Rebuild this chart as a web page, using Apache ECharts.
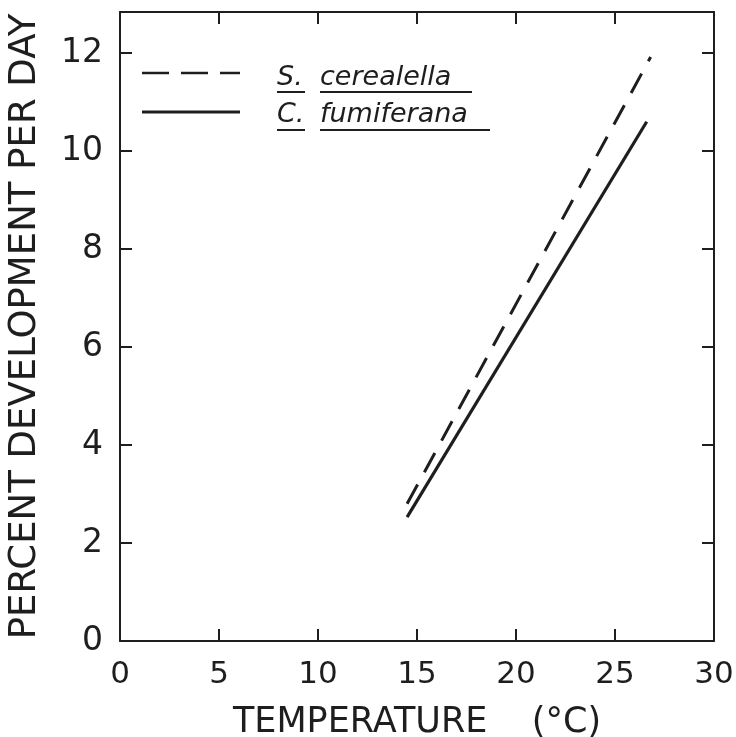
<!DOCTYPE html>
<html><head><meta charset="utf-8">
<script src="https://cdn.jsdelivr.net/npm/echarts@6/dist/echarts.min.js"></script>
<style>html,body{margin:0;padding:0;background:#fff}#c{width:736px;height:737px}</style>
</head><body><div id="c"></div>
<script>
var xTicks = [0, 5, 10, 15, 20, 25, 30];
var yTicks = [0, 2, 4, 6, 8, 10, 12];
var seriesNames = ['S. cerealella', 'C. fumiferana'];
var cerealellaTemp = [14.5, 26.8];
var cerealellaRate = [2.8, 11.92];
var fumiferanaTemp = [14.5, 26.6];
var fumiferanaRate = [2.53, 10.6];

var FONT = 'DejaVu Sans';
var INK = '#1e1e1e';
var chart = echarts.init(document.getElementById('c'), null, {renderer: 'canvas'});
function pairs(xs, ys) { return xs.map(function (x, i) { return [x, ys[i]]; }); }
function axisCommon() {
  return {
    axisLine: {onZero: false, lineStyle: {color: INK, width: 2}},
    axisTick: {inside: true, length: 12, lineStyle: {color: INK, width: 2}},
    splitLine: {show: false}
  };
}
chart.setOption({
  animation: false,
  backgroundColor: '#fff',
  grid: {left: 120, right: 22, top: 12, bottom: 96, containLabel: false, outerBoundsMode: 'none'},
  xAxis: [
    Object.assign({type: 'value', min: 0, max: 30, interval: 5, position: 'bottom',
      name: 'TEMPERATURE    (°C)', nameLocation: 'middle', nameGap: 64,
      nameTextStyle: {fontFamily: FONT, fontSize: 35, color: INK},
      axisLabel: {fontFamily: FONT, fontSize: 31, color: INK, margin: 18,
        formatter: function (v) { return xTicks.indexOf(v) >= 0 ? String(v) : ''; }}}, axisCommon()),
    Object.assign({type: 'value', min: 0, max: 30, interval: 5, position: 'top',
      axisLabel: {show: false}}, axisCommon())
  ],
  yAxis: [
    Object.assign({type: 'value', min: 0, max: 12.84, interval: 2, position: 'left',
      name: 'PERCENT DEVELOPMENT PER DAY', nameLocation: 'middle', nameGap: 76,
      nameTextStyle: {fontFamily: FONT, fontSize: 37, color: INK},
      axisLabel: {fontFamily: FONT, fontSize: 33, color: INK, margin: 17,
        showMaxLabel: false,
        formatter: function (v) { return yTicks.indexOf(v) >= 0 ? String(v) : ''; }}}, axisCommon()),
    Object.assign({type: 'value', min: 0, max: 12.84, interval: 2, position: 'right',
      axisLabel: {show: false}}, axisCommon())
  ],
  series: [
    {name: seriesNames[0], type: 'line', data: pairs(cerealellaTemp, cerealellaRate),
      showSymbol: false, symbol: 'none',
      lineStyle: {color: INK, width: 3, type: [22, 14]}},
    {name: seriesNames[1], type: 'line', data: pairs(fumiferanaTemp, fumiferanaRate),
      showSymbol: false, symbol: 'none',
      lineStyle: {color: INK, width: 3.2}}
  ],
  graphic: [
    {type: 'line', shape: {x1: 142, y1: 73, x2: 240, y2: 73}, style: {stroke: INK, lineWidth: 2.5, lineDash: [27, 12]}},
    {type: 'line', shape: {x1: 142, y1: 112, x2: 240, y2: 112}, style: {stroke: INK, lineWidth: 3}},
    {type: 'text', x: 277, y: 78, style: {text: 'S.', fontFamily: FONT, fontStyle: 'italic', fontSize: 27, fill: INK, verticalAlign: 'middle'}},
    {type: 'text', x: 320, y: 78, style: {text: 'cerealella', fontFamily: FONT, fontStyle: 'italic', fontSize: 27, fill: INK, verticalAlign: 'middle'}},
    {type: 'text', x: 277, y: 115, style: {text: 'C.', fontFamily: FONT, fontStyle: 'italic', fontSize: 27, fill: INK, verticalAlign: 'middle'}},
    {type: 'text', x: 320, y: 115, style: {text: 'fumiferana', fontFamily: FONT, fontStyle: 'italic', fontSize: 27, fill: INK, verticalAlign: 'middle'}},
    {type: 'line', shape: {x1: 277, y1: 92, x2: 305, y2: 92}, style: {stroke: INK, lineWidth: 2}},
    {type: 'line', shape: {x1: 320, y1: 92, x2: 472, y2: 92}, style: {stroke: INK, lineWidth: 2}},
    {type: 'line', shape: {x1: 277, y1: 130, x2: 305, y2: 130}, style: {stroke: INK, lineWidth: 2}},
    {type: 'line', shape: {x1: 320, y1: 130, x2: 490, y2: 130}, style: {stroke: INK, lineWidth: 2}}
  ]
});
</script></body></html>
